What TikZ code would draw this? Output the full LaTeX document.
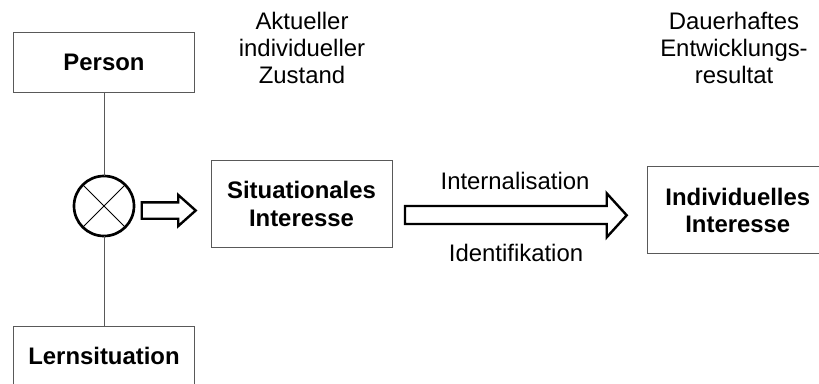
\documentclass[tikz,border=0pt]{standalone}
\usepackage{fontspec}
\setmainfont{Liberation Sans}
\usepackage{tikz}
\usetikzlibrary{positioning}
\definecolor{boxgray}{rgb}{0.35,0.35,0.35}
\newcommand{\diagfont}{\fontsize{17pt}{19.4pt}\selectfont}

\begin{document}
\begin{tikzpicture}[
		box/.style={draw=boxgray, line width=0.7pt, minimum width=4.525cm, align=center, font=\diagfont\bfseries},
		note/.style={align=center, font=\diagfont},
		link/.style={draw=boxgray, line width=0.7pt},
		blockarrow/.style={draw, line width=1.7pt, fill=white, line join=miter}
	]
	\useasboundingbox (0,0) rectangle (20.475,-9.575);
	% Boxes
	\node[box, minimum height=1.5cm] (person) at (2.6,-1.55) {Person};
	\node[box, minimum height=1.5cm] (lern) at (2.6,-8.9) {Lernsituation};
	\node[draw, circle, line width=1.9pt, minimum size=1.5cm, outer sep=0pt] (mix) at (2.6,-5.15) {};
	\draw[line width=0.6pt] (mix.north west) -- (mix.south east);
	\draw[line width=0.6pt] (mix.north east) -- (mix.south west);
	\node[box, minimum height=2.165cm] (situ) at (7.5375,-5.1) {Situationales\\Interesse};
	\node[box, minimum height=2.175cm] (indiv) at (18.445,-5.255) {Individuelles\\Interesse};
	% Connectors
	\draw[link] (person) -- (mix);
	\draw[link] (mix) -- (lern);
	% Block arrows
	\draw[blockarrow] (3.5425,-5.0575) -- (4.4575,-5.0575) -- (4.4575,-4.875) -- (4.8925,-5.2625)
		-- (4.4575,-5.65) -- (4.4575,-5.4675) -- (3.5425,-5.4675) -- cycle;
	\draw[blockarrow] (10.125,-5.15) -- (15.1675,-5.15) -- (15.1675,-4.8325) -- (15.6675,-5.3825)
		-- (15.1675,-5.9325) -- (15.1675,-5.6) -- (10.125,-5.6) -- cycle;
	% Labels
	\node[note] (intern) at (12.875,-4.525) {Internalisation};
	\node[note] (ident) at (12.9,-6.325) {Identifikation};
	\node[note] (aktuell) at (7.55,-1.2) {Aktueller\\individueller\\Zustand};
	\node[note] (dauer) at (18.35,-1.2) {Dauerhaftes\\Entwicklungs-\\resultat};
\end{tikzpicture}
\end{document}
